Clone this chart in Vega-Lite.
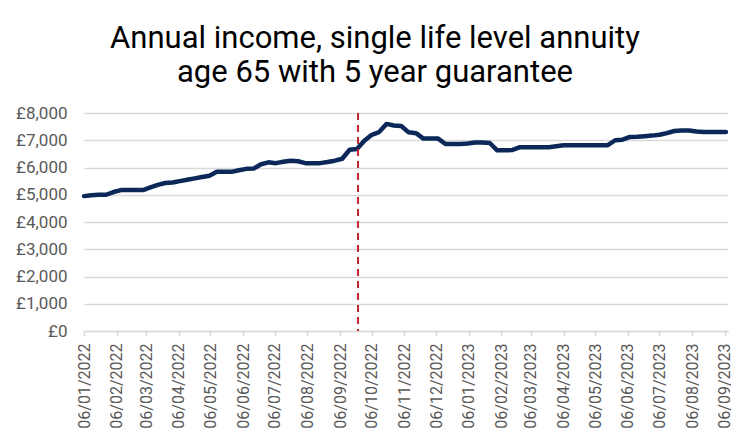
{
  "$schema": "https://vega.github.io/schema/vega-lite/v6.json",
  "width": 644,
  "height": 218,
  "autosize": {"type": "none"},
  "padding": {"left": 84, "top": 113, "right": 23, "bottom": 117},
  "background": "white",
  "config": {"view": {"stroke": null}, "font": "Roboto", "axisX": {"labelOverlap": false}},
  "title": {
    "text": ["Annual income, single life level annuity", "age 65 with 5 year guarantee"],
    "fontSize": 31,
    "fontWeight": "normal",
    "font": "Roboto",
    "color": "#000000",
    "anchor": "middle",
    "frame": "group",
    "dx": -31,
    "offset": 15,
    "lineHeight": 34
  },
  "datasets": {
    "income": [
      {"date": "2022-01-06", "value": 4950},
      {"date": "2022-01-13", "value": 4980},
      {"date": "2022-01-20", "value": 5000},
      {"date": "2022-01-27", "value": 5000},
      {"date": "2022-02-03", "value": 5100},
      {"date": "2022-02-10", "value": 5170},
      {"date": "2022-02-17", "value": 5170},
      {"date": "2022-02-24", "value": 5170},
      {"date": "2022-03-03", "value": 5170},
      {"date": "2022-03-10", "value": 5270},
      {"date": "2022-03-17", "value": 5360},
      {"date": "2022-03-24", "value": 5430},
      {"date": "2022-03-31", "value": 5450},
      {"date": "2022-04-07", "value": 5500},
      {"date": "2022-04-14", "value": 5550},
      {"date": "2022-04-21", "value": 5600},
      {"date": "2022-04-28", "value": 5650},
      {"date": "2022-05-05", "value": 5700},
      {"date": "2022-05-12", "value": 5840},
      {"date": "2022-05-19", "value": 5840},
      {"date": "2022-05-26", "value": 5840},
      {"date": "2022-06-02", "value": 5900},
      {"date": "2022-06-09", "value": 5950},
      {"date": "2022-06-16", "value": 5960},
      {"date": "2022-06-23", "value": 6120},
      {"date": "2022-06-30", "value": 6190},
      {"date": "2022-07-07", "value": 6160},
      {"date": "2022-07-14", "value": 6210},
      {"date": "2022-07-21", "value": 6250},
      {"date": "2022-07-28", "value": 6230},
      {"date": "2022-08-04", "value": 6160},
      {"date": "2022-08-11", "value": 6160},
      {"date": "2022-08-18", "value": 6160},
      {"date": "2022-08-25", "value": 6200},
      {"date": "2022-09-01", "value": 6250},
      {"date": "2022-09-08", "value": 6320},
      {"date": "2022-09-15", "value": 6650},
      {"date": "2022-09-22", "value": 6680},
      {"date": "2022-09-29", "value": 6980},
      {"date": "2022-10-06", "value": 7200},
      {"date": "2022-10-13", "value": 7300},
      {"date": "2022-10-20", "value": 7600},
      {"date": "2022-10-27", "value": 7540},
      {"date": "2022-11-03", "value": 7520},
      {"date": "2022-11-10", "value": 7290},
      {"date": "2022-11-17", "value": 7260},
      {"date": "2022-11-24", "value": 7060},
      {"date": "2022-12-01", "value": 7060},
      {"date": "2022-12-08", "value": 7060},
      {"date": "2022-12-15", "value": 6860},
      {"date": "2022-12-22", "value": 6860},
      {"date": "2022-12-29", "value": 6860},
      {"date": "2023-01-05", "value": 6880},
      {"date": "2023-01-12", "value": 6920},
      {"date": "2023-01-19", "value": 6920},
      {"date": "2023-01-26", "value": 6900},
      {"date": "2023-02-02", "value": 6630},
      {"date": "2023-02-09", "value": 6630},
      {"date": "2023-02-16", "value": 6640},
      {"date": "2023-02-23", "value": 6740},
      {"date": "2023-03-02", "value": 6740},
      {"date": "2023-03-09", "value": 6740},
      {"date": "2023-03-16", "value": 6740},
      {"date": "2023-03-23", "value": 6740},
      {"date": "2023-03-30", "value": 6780},
      {"date": "2023-04-06", "value": 6820},
      {"date": "2023-04-13", "value": 6820},
      {"date": "2023-04-20", "value": 6820},
      {"date": "2023-04-27", "value": 6820},
      {"date": "2023-05-04", "value": 6820},
      {"date": "2023-05-11", "value": 6820},
      {"date": "2023-05-18", "value": 6820},
      {"date": "2023-05-25", "value": 7000},
      {"date": "2023-06-01", "value": 7020},
      {"date": "2023-06-08", "value": 7120},
      {"date": "2023-06-15", "value": 7130},
      {"date": "2023-06-22", "value": 7150},
      {"date": "2023-06-29", "value": 7170},
      {"date": "2023-07-06", "value": 7200},
      {"date": "2023-07-13", "value": 7260},
      {"date": "2023-07-20", "value": 7340},
      {"date": "2023-07-27", "value": 7360},
      {"date": "2023-08-03", "value": 7360},
      {"date": "2023-08-10", "value": 7320},
      {"date": "2023-08-17", "value": 7300},
      {"date": "2023-08-24", "value": 7300},
      {"date": "2023-08-31", "value": 7300},
      {"date": "2023-09-07", "value": 7300}
    ],
    "event": [{"date": "2022-09-23"}]
  },
  "encoding": {
    "x": {
      "field": "date",
      "type": "temporal",
      "scale": {
        "type": "utc",
        "domain": [
          {"year": 2022, "month": 1, "date": 6, "utc": true},
          {"year": 2023, "month": 9, "date": 9, "utc": true}
        ]
      },
      "axis": {
        "title": null,
        "values": [
          {"year": 2022, "month": 1, "date": 6, "utc": true},
          {"year": 2022, "month": 2, "date": 6, "utc": true},
          {"year": 2022, "month": 3, "date": 6, "utc": true},
          {"year": 2022, "month": 4, "date": 6, "utc": true},
          {"year": 2022, "month": 5, "date": 6, "utc": true},
          {"year": 2022, "month": 6, "date": 6, "utc": true},
          {"year": 2022, "month": 7, "date": 6, "utc": true},
          {"year": 2022, "month": 8, "date": 6, "utc": true},
          {"year": 2022, "month": 9, "date": 6, "utc": true},
          {"year": 2022, "month": 10, "date": 6, "utc": true},
          {"year": 2022, "month": 11, "date": 6, "utc": true},
          {"year": 2022, "month": 12, "date": 6, "utc": true},
          {"year": 2023, "month": 1, "date": 6, "utc": true},
          {"year": 2023, "month": 2, "date": 6, "utc": true},
          {"year": 2023, "month": 3, "date": 6, "utc": true},
          {"year": 2023, "month": 4, "date": 6, "utc": true},
          {"year": 2023, "month": 5, "date": 6, "utc": true},
          {"year": 2023, "month": 6, "date": 6, "utc": true},
          {"year": 2023, "month": 7, "date": 6, "utc": true},
          {"year": 2023, "month": 8, "date": 6, "utc": true},
          {"year": 2023, "month": 9, "date": 6, "utc": true}
        ],
        "labelExpr": "utcFormat(datum.value, '%d/%m/%Y')",
        "labelAngle": -90,
        "labelAlign": "right",
        "labelBaseline": "middle",
        "labelFontSize": 16,
        "labelColor": "#595959",
        "labelPadding": 7,
        "labelOverlap": false,
        "labelBound": false,
        "labelFlush": false,
        "grid": false,
        "domainColor": "#d9d9d9",
        "domainWidth": 1.5,
        "tickColor": "#d9d9d9",
        "tickSize": 5,
        "tickWidth": 1.5
      }
    }
  },
  "layer": [
    {
      "data": {"name": "income"},
      "mark": {"type": "line", "color": "#0b2859", "strokeWidth": 4.5, "strokeJoin": "round", "strokeCap": "round"},
      "encoding": {
        "y": {
          "field": "value",
          "type": "quantitative",
          "scale": {"domain": [0, 8000], "nice": false},
          "axis": {
            "title": null,
            "values": [0, 1000, 2000, 3000, 4000, 5000, 6000, 7000, 8000],
            "format": ",.0f",
            "labelExpr": "'£' + datum.label",
            "labelFontSize": 17,
            "labelColor": "#595959",
            "labelPadding": 17,
            "domain": false,
            "ticks": false,
            "grid": true,
            "gridColor": "#d9d9d9",
            "gridWidth": 1.5
          }
        }
      }
    },
    {
      "data": {"name": "event"},
      "mark": {"type": "rule", "color": "#c0262d", "strokeWidth": 2, "strokeDash": [7, 5]},
      "encoding": {}
    }
  ]
}
